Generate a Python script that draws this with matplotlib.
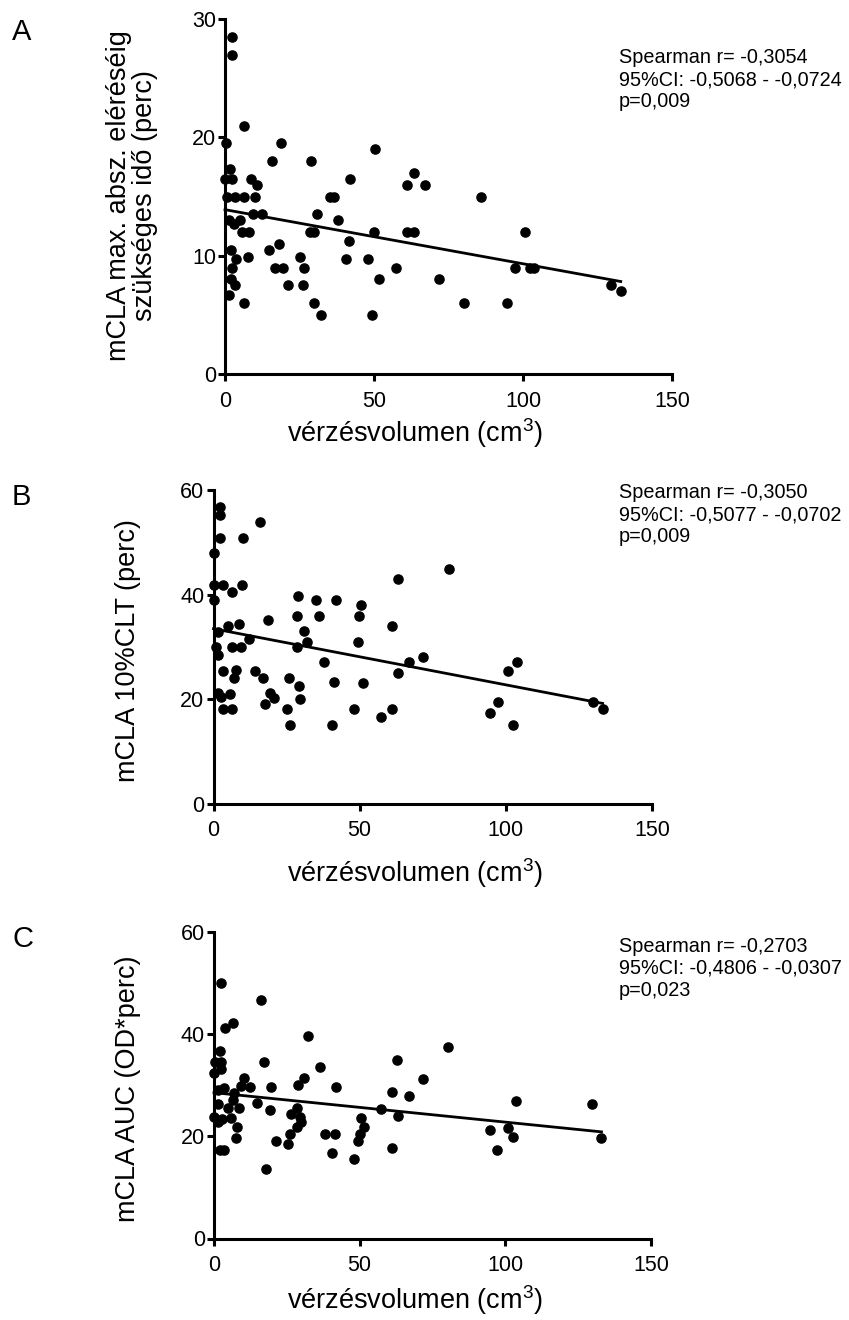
import numpy as np
import matplotlib
matplotlib.use('Agg')
import matplotlib.pyplot as plt

plt.rcParams['font.family'] = ['Liberation Sans', 'DejaVu Sans']
plt.rcParams['mathtext.fontset'] = 'custom'
plt.rcParams['mathtext.rm'] = 'Liberation Sans'

# --- data (vérzésvolumen in cm3) ---
vol_a = [2.5, 2.5, 6.5, 0.2, 18.9, 15.9, 29.0, 50.3, 1.6, 0.0, 2.5, 8.7, 10.6, 41.8,
         0.6, 3.5, 6.5, 10.2, 35.2, 36.6, 9.3, 12.5, 31.0, 1.5, 2.9, 5.1, 37.9, 5.8,
         8.1, 28.5, 29.9, 49.9, 61.2, 63.3, 61.2, 63.3, 67.0, 18.0, 41.5, 2.1, 14.8,
         7.7, 25.2, 3.8, 40.5, 48.0, 2.5, 16.9, 19.6, 26.5, 57.3, 2.1, 3.4, 21.1, 26.2,
         51.6, 71.8, 1.5, 6.5, 30.0, 32.2, 49.4, 85.8, 100.8, 97.2, 102.3, 103.7, 80.3,
         94.5, 129.4, 132.8]
time_a = [28.5, 27.0, 21.0, 19.5, 19.5, 18.0, 18.0, 19.0, 17.3, 16.5, 16.5, 16.5, 16.0, 16.5,
          15.0, 15.0, 15.0, 15.0, 15.0, 15.0, 13.5, 13.5, 13.5, 13.0, 12.7, 13.0, 13.0, 12.0,
          12.0, 12.0, 12.0, 12.0, 12.0, 12.0, 16.0, 17.0, 16.0, 11.0, 11.2, 10.5, 10.5,
          9.9, 9.9, 9.7, 9.7, 9.7, 9.0, 9.0, 9.0, 9.0, 9.0, 8.0, 7.5, 7.5, 7.5,
          8.0, 8.0, 6.7, 6.0, 6.0, 5.0, 5.0, 15.0, 12.0, 9.0, 9.0, 9.0, 6.0,
          6.0, 7.5, 7.0]

vol_b = [2.1, 2.1, 15.8, 2.1, 10.1, 0.3, 0.0, 3.2, 9.7, 6.3, 0.0, 28.8, 34.9, 41.8,
         50.3, 28.4, 36.1, 49.8, 18.8, 63.0, 8.6, 4.8, 61.0, 1.4, 30.9, 12.0, 32.0, 49.3,
         0.9, 6.3, 9.3, 28.4, 1.4, 37.8, 67.0, 71.8, 63.2, 3.4, 7.7, 14.3, 7.0, 16.8,
         25.8, 29.3, 41.3, 51.3, 19.3, 20.8, 29.7, 1.4, 2.7, 5.7, 17.6, 3.1, 6.4, 25.1,
         47.9, 61.0, 57.2, 26.3, 40.4, 80.4, 103.7, 100.9, 97.3, 94.5, 102.6, 129.7, 133.1]
clt_b = [56.8, 55.2, 53.8, 50.9, 50.9, 47.9, 41.9, 41.9, 41.9, 40.4, 38.9, 39.7, 38.9, 38.9,
         37.9, 35.9, 35.9, 35.9, 35.2, 42.9, 34.4, 33.9, 33.9, 32.9, 33.0, 31.4, 31.0, 31.0,
         30.0, 30.0, 30.0, 30.0, 28.4, 27.0, 27.0, 28.0, 25.0, 25.4, 25.5, 25.4, 24.0, 24.0,
         24.0, 22.5, 23.2, 23.0, 21.1, 20.2, 20.0, 21.1, 20.4, 21.0, 19.0, 18.0, 18.0, 18.0,
         18.0, 18.0, 16.5, 15.1, 15.1, 44.8, 27.0, 25.4, 19.5, 17.3, 15.1, 19.5, 18.0]

vol_c = [2.4, 16.0, 6.5, 3.7, 32.2, 2.2, 0.3, 2.4, 17.0, 2.4, 0.0, 36.4, 10.4, 30.8,
         9.3, 12.5, 19.6, 28.9, 42.0, 3.5, 1.5, 6.7, 6.5, 1.3, 14.6, 8.7, 4.9, 19.1,
         28.6, 26.3, 29.5, 57.2, 61.2, 62.9, 67.0, 71.9, 63.2, 0.1, 2.9, 1.3, 5.7, 50.3,
         29.8, 28.5, 8.0, 51.6, 50.0, 38.0, 41.5, 26.2, 7.7, 49.4, 21.2, 25.4, 61.2, 2.0,
         3.4, 40.4, 48.0, 17.8, 80.4, 103.6, 129.7, 94.6, 100.9, 102.5, 97.2, 133.0]
auc_c = [50.0, 46.6, 42.1, 41.2, 39.7, 36.7, 34.6, 34.5, 34.5, 33.1, 32.4, 33.5, 31.4, 31.4,
         29.9, 29.6, 29.6, 30.0, 29.6, 29.4, 29.0, 28.4, 27.1, 26.4, 26.6, 25.6, 25.5, 25.1,
         25.6, 24.3, 23.8, 25.3, 28.6, 35.0, 27.8, 31.3, 24.0, 23.8, 23.3, 22.8, 23.6, 23.6,
         22.8, 21.8, 21.8, 21.8, 20.5, 20.5, 20.5, 20.4, 19.6, 19.0, 19.0, 18.5, 17.7, 17.3,
         17.3, 16.7, 15.6, 13.6, 37.4, 26.9, 26.3, 21.3, 21.7, 19.9, 17.3, 19.6]

letters = ['A', 'B', 'C']
ylabels = ['mCLA max. absz. eléréséig\nszükséges idő (perc)',
           'mCLA 10%CLT (perc)',
           'mCLA AUC (OD*perc)']
ymax = [30, 60, 60]
yticks = [[0, 10, 20, 30], [0, 20, 40, 60], [0, 20, 40, 60]]
xticks = [0, 50, 100, 150]
stats = [['Spearman r= -0,3054', '95%CI: -0,5068 - -0,0724', 'p=0,009'],
         ['Spearman r= -0,3050', '95%CI: -0,5077 - -0,0702', 'p=0,009'],
         ['Spearman r= -0,2703', '95%CI: -0,4806 - -0,0307', 'p=0,023']]
xlabel = 'vérzésvolumen (cm$^{3}$)'

W, H = 849, 1320
fig = plt.figure(figsize=(W / 100, H / 100), dpi=100)


def px_axes(left, top, right, bottom):
    return fig.add_axes([left / W, 1 - bottom / H, (right - left) / W, (bottom - top) / H])


# axes boxes in pixels: left, top, right, bottom
boxes = [(225, 19, 672, 374), (213.5, 490, 652, 803.5), (214, 932, 651, 1238.5)]
ylabel_pos = [(132, 196), (128, 651), (128, 1089)]
xlabel_base = [442, 882, 1309]
stats_base = [63, 498.5, 952]
letter_base = [40, 505, 947]

series = [(vol_a, time_a), (vol_b, clt_b), (vol_c, auc_c)]

for i, (x, y) in enumerate(series):
    l, t, r, b = boxes[i]
    ax = px_axes(l, t, r, b)
    x = np.array(x)
    y = np.array(y)
    ax.plot(x, y, 'o', color='black', markersize=6.6, clip_on=False, zorder=3)

    # linear regression line over the data range
    slope, icpt = np.polyfit(x, y, 1)
    xs = np.array([x.min(), x.max()])
    ax.plot(xs, slope * xs + icpt, color='black', lw=2.0, clip_on=False, zorder=2)

    ax.set_xlim(0, 150)
    ax.set_ylim(0, ymax[i])
    ax.set_xticks(xticks)
    ax.set_yticks(yticks[i])
    for s in ['top', 'right']:
        ax.spines[s].set_visible(False)
    for s in ['left', 'bottom']:
        ax.spines[s].set_linewidth(2.2)
        ax.spines[s].set_capstyle('projecting')
    ax.tick_params(axis='both', width=2.2, length=5, labelsize=15.5, direction='out')
    ax.tick_params(axis='x', pad=7)
    ax.tick_params(axis='y', pad=1.5)
    ax.patch.set_visible(False)

    fig.text(12 / W, 1 - letter_base[i] / H, letters[i], fontsize=21,
             ha='left', va='baseline')
    fig.text(ylabel_pos[i][0] / W, 1 - ylabel_pos[i][1] / H, ylabels[i],
             fontsize=19.5, rotation=90, ha='center', va='center',
             multialignment='center', linespacing=1.05)
    fig.text(287 / W, 1 - xlabel_base[i] / H, xlabel, fontsize=19.5,
             ha='left', va='baseline')
    for k, line in enumerate(stats[i]):
        fig.text(619 / W, 1 - (stats_base[i] + 22 * k) / H, line, fontsize=14.3,
                 ha='left', va='baseline')

fig.savefig('out.png', dpi=100)
